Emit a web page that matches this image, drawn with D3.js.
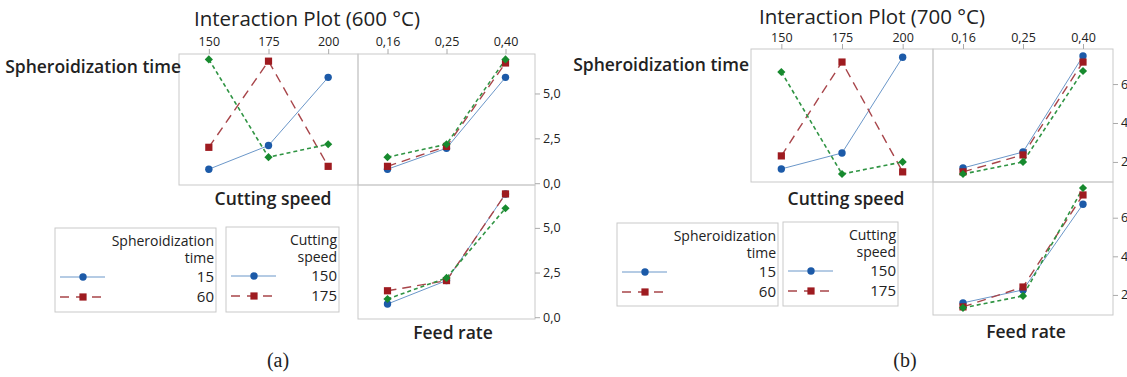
<!DOCTYPE html>
<html>
<head>
<meta charset="utf-8">
<script src="https://cdn.jsdelivr.net/npm/d3@7"></script>
<style>
  body { margin: 0; background: #fff; }
  svg { display: block; }
  text { font-family: "Open Sans", sans-serif; fill: #222; }
</style>
</head>
<body>
<svg id="chart" width="1127" height="377"></svg>
<script>
// Interaction plots, 600 °C (a) and 700 °C (b)

// factor levels (x axes)
const speedLevels = ['150', '175', '200'];
const feedLevels = ['0,16', '0,25', '0,40'];

// legend entries that are visible in the picture
const timeLegend = ['15', '60'];
const speedLegend = ['150', '175'];

// 600 °C : means, one row per trace (blue, red, green)
const a600SpeedByTime = [[0.78, 2.1, 5.9], [2.0, 6.8, 0.94], [6.9, 1.45, 2.17]];
const a600FeedByTime = [[0.78, 1.95, 5.9], [0.94, 2.05, 6.7], [1.45, 2.17, 6.9]];
const a600FeedBySpeed = [[0.74, 2.05, 6.9], [1.48, 2.05, 6.9], [1.02, 2.2, 6.1]];
const a600Ticks = [0, 2.5, 5];

// 700 °C
const b700SpeedByTime = [[1.64, 2.46, 7.38], [2.31, 7.13, 1.49], [6.62, 1.38, 2.0]];
const b700FeedByTime = [[1.69, 2.51, 7.44], [1.49, 2.36, 7.13], [1.38, 2.0, 6.67]];
const b700FeedBySpeed = [[1.59, 2.26, 6.7], [1.38, 2.41, 7.18], [1.33, 1.95, 7.54]];
const b700Ticks = [2, 4, 6];

// trace styles
const styles = [
  { fill: '#1c5aa8', line: '#6b97c9', dash: null, width: 1, shape: 'circle' },
  { fill: '#9e1b20', line: '#a8454a', dash: '9,6', width: 1.4, shape: 'square' },
  { fill: '#178a2e', line: '#2f9443', dash: '4,3', width: 1.6, shape: 'diamond' }
];

const svg = d3.select('#chart');
const fmt = d => d3.format('.1f')(d).replace('.', ',');
const frameColour = '#c9c9c9';

function marker(sel, s) {
  if (s.shape === 'circle') {
    sel.append('circle').attr('r', 3.7).attr('fill', s.fill);
  } else if (s.shape === 'square') {
    sel.append('rect').attr('x', -3.6).attr('y', -3.6).attr('width', 7.2).attr('height', 7.2).attr('fill', s.fill);
  } else {
    sel.append('rect').attr('x', -2.9).attr('y', -2.9).attr('width', 5.8).attr('height', 5.8)
      .attr('transform', 'rotate(45)').attr('fill', s.fill);
  }
}

function drawPanel(p) {
  const g = svg.append('g');

  // title
  g.append('text').attr('x', p.titleX).attr('y', p.titleY)
    .attr('text-anchor', 'middle').style('font-size', '20.5px')
    .text(p.title);

  p.cells.forEach(c => {
    const x0 = p.colX[c.col], x1 = p.colX[c.col + 1];
    const y0 = p.rowY[c.row], y1 = p.rowY[c.row + 1];
    const x = d3.scalePoint().domain(c.levels).range([x0, x1]).padding(0.5);
    const y = d3.scaleLinear().domain(p.domains[c.row]).range([y1, y0]);

    g.append('rect').attr('x', x0).attr('y', y0).attr('width', x1 - x0).attr('height', y1 - y0)
      .attr('fill', 'none').attr('stroke', frameColour);

    if (c.row === 0) {
      const ax = g.append('g').attr('transform', 'translate(0,' + y0 + ')')
        .call(d3.axisTop(x).tickSize(5).tickPadding(p.topPad));
      ax.select('.domain').remove();
      ax.selectAll('line').attr('stroke', '#aaa');
      ax.selectAll('text').style('font-size', '12.5px').style('font-family', '"Open Sans", sans-serif').attr('fill', '#222');
    }
    if (c.col === 1) {
      const ay = g.append('g').attr('transform', 'translate(' + x1 + ',0)')
        .call(d3.axisRight(y).tickValues(p.ticks).tickFormat(fmt).tickSize(5).tickPadding(3));
      ay.select('.domain').remove();
      ay.selectAll('line').attr('stroke', '#aaa');
      ay.selectAll('text').style('font-size', '12.5px').style('font-family', '"Open Sans", sans-serif').attr('fill', '#222');
    }

    const line = d3.line().x((d, i) => x(c.levels[i])).y(d => y(d));
    c.data.forEach((vals, k) => {
      const s = styles[k];
      g.append('path').datum(vals).attr('d', line)
        .attr('fill', 'none').attr('stroke', s.line).attr('stroke-width', s.width)
        .attr('stroke-dasharray', s.dash);
    });
    // markers on top
    c.data.forEach((vals, k) => {
      g.selectAll(null).data(vals).enter().append('g')
        .attr('transform', (d, i) => 'translate(' + x(c.levels[i]) + ',' + y(d) + ')')
        .each(function () { marker(d3.select(this), styles[k]); });
    });
  });

  // diagonal factor names
  p.labels.forEach(l => {
    g.append('text').attr('x', l.x).attr('y', l.y).attr('text-anchor', l.anchor)
      .style('font-size', '17.5px').style('font-weight', 600).text(l.text);
  });

  // legends
  p.legends.forEach(L => {
    g.append('rect').attr('x', L.x).attr('y', L.y).attr('width', L.w).attr('height', L.h)
      .attr('fill', 'none').attr('stroke', frameColour);
    const tx = L.x + L.w - 2;
    L.head.forEach((h, i) => {
      g.append('text').attr('x', tx).attr('y', L.y + 18 + i * 17).attr('text-anchor', 'end')
        .style('font-size', '14px').text(h);
    });
    L.items.forEach((it, i) => {
      const yy = L.y + 49 + i * 20;
      const s = styles[i];
      g.append('line').attr('x1', L.x + 5).attr('x2', L.x + 50).attr('y1', yy).attr('y2', yy)
        .attr('stroke', s.line).attr('stroke-width', s.width).attr('stroke-dasharray', s.dash ? '9,7' : null);
      const m = g.append('g').attr('transform', 'translate(' + (L.x + 28) + ',' + yy + ')');
      marker(m, s);
      g.append('text').attr('x', tx).attr('y', yy + 5).attr('text-anchor', 'end')
        .style('font-size', '15px').text(it);
    });
  });

  g.append('text').attr('x', p.capX).attr('y', 367).attr('text-anchor', 'middle')
    .style('font-family', '"Liberation Serif", serif').style('font-size', '20px').text(p.caption);
}

drawPanel({
  title: 'Interaction Plot (600 °C)', titleX: 307, titleY: 26, topPad: 3,
  colX: [179, 358, 535], rowY: [54, 185, 319],
  domains: [[-0.1, 7.2], [-0.1, 7.4]], ticks: a600Ticks,
  cells: [
    { col: 0, row: 0, levels: speedLevels, data: a600SpeedByTime },
    { col: 1, row: 0, levels: feedLevels, data: a600FeedByTime },
    { col: 1, row: 1, levels: feedLevels, data: a600FeedBySpeed }
  ],
  labels: [
    { text: 'Spheroidization time', x: 181, y: 73, anchor: 'end' },
    { text: 'Cutting speed', x: 273, y: 205, anchor: 'middle' },
    { text: 'Feed rate', x: 453, y: 339, anchor: 'middle' }
  ],
  legends: [
    { x: 55, y: 228, w: 161, h: 84, head: ['Spheroidization', 'time'], items: timeLegend },
    { x: 226, y: 227, w: 113, h: 85, head: ['Cutting', 'speed'], items: speedLegend }
  ],
  caption: '(a)', capX: 278
});

drawPanel({
  title: 'Interaction Plot (700 °C)', titleX: 872, titleY: 24, topPad: 2,
  colX: [751, 933, 1113], rowY: [49, 182, 315],
  domains: [[0.97, 7.8], [0.96, 7.85]], ticks: b700Ticks,
  cells: [
    { col: 0, row: 0, levels: speedLevels, data: b700SpeedByTime },
    { col: 1, row: 0, levels: feedLevels, data: b700FeedByTime },
    { col: 1, row: 1, levels: feedLevels, data: b700FeedBySpeed }
  ],
  labels: [
    { text: 'Spheroidization time', x: 749, y: 71, anchor: 'end' },
    { text: 'Cutting speed', x: 846, y: 205, anchor: 'middle' },
    { text: 'Feed rate', x: 1026, y: 338, anchor: 'middle' }
  ],
  legends: [
    { x: 617, y: 223, w: 161, h: 83, head: ['Spheroidization', 'time'], items: timeLegend },
    { x: 783, y: 222, w: 115, h: 84, head: ['Cutting', 'speed'], items: speedLegend }
  ],
  caption: '(b)', capX: 905
});
</script>
</body>
</html>
